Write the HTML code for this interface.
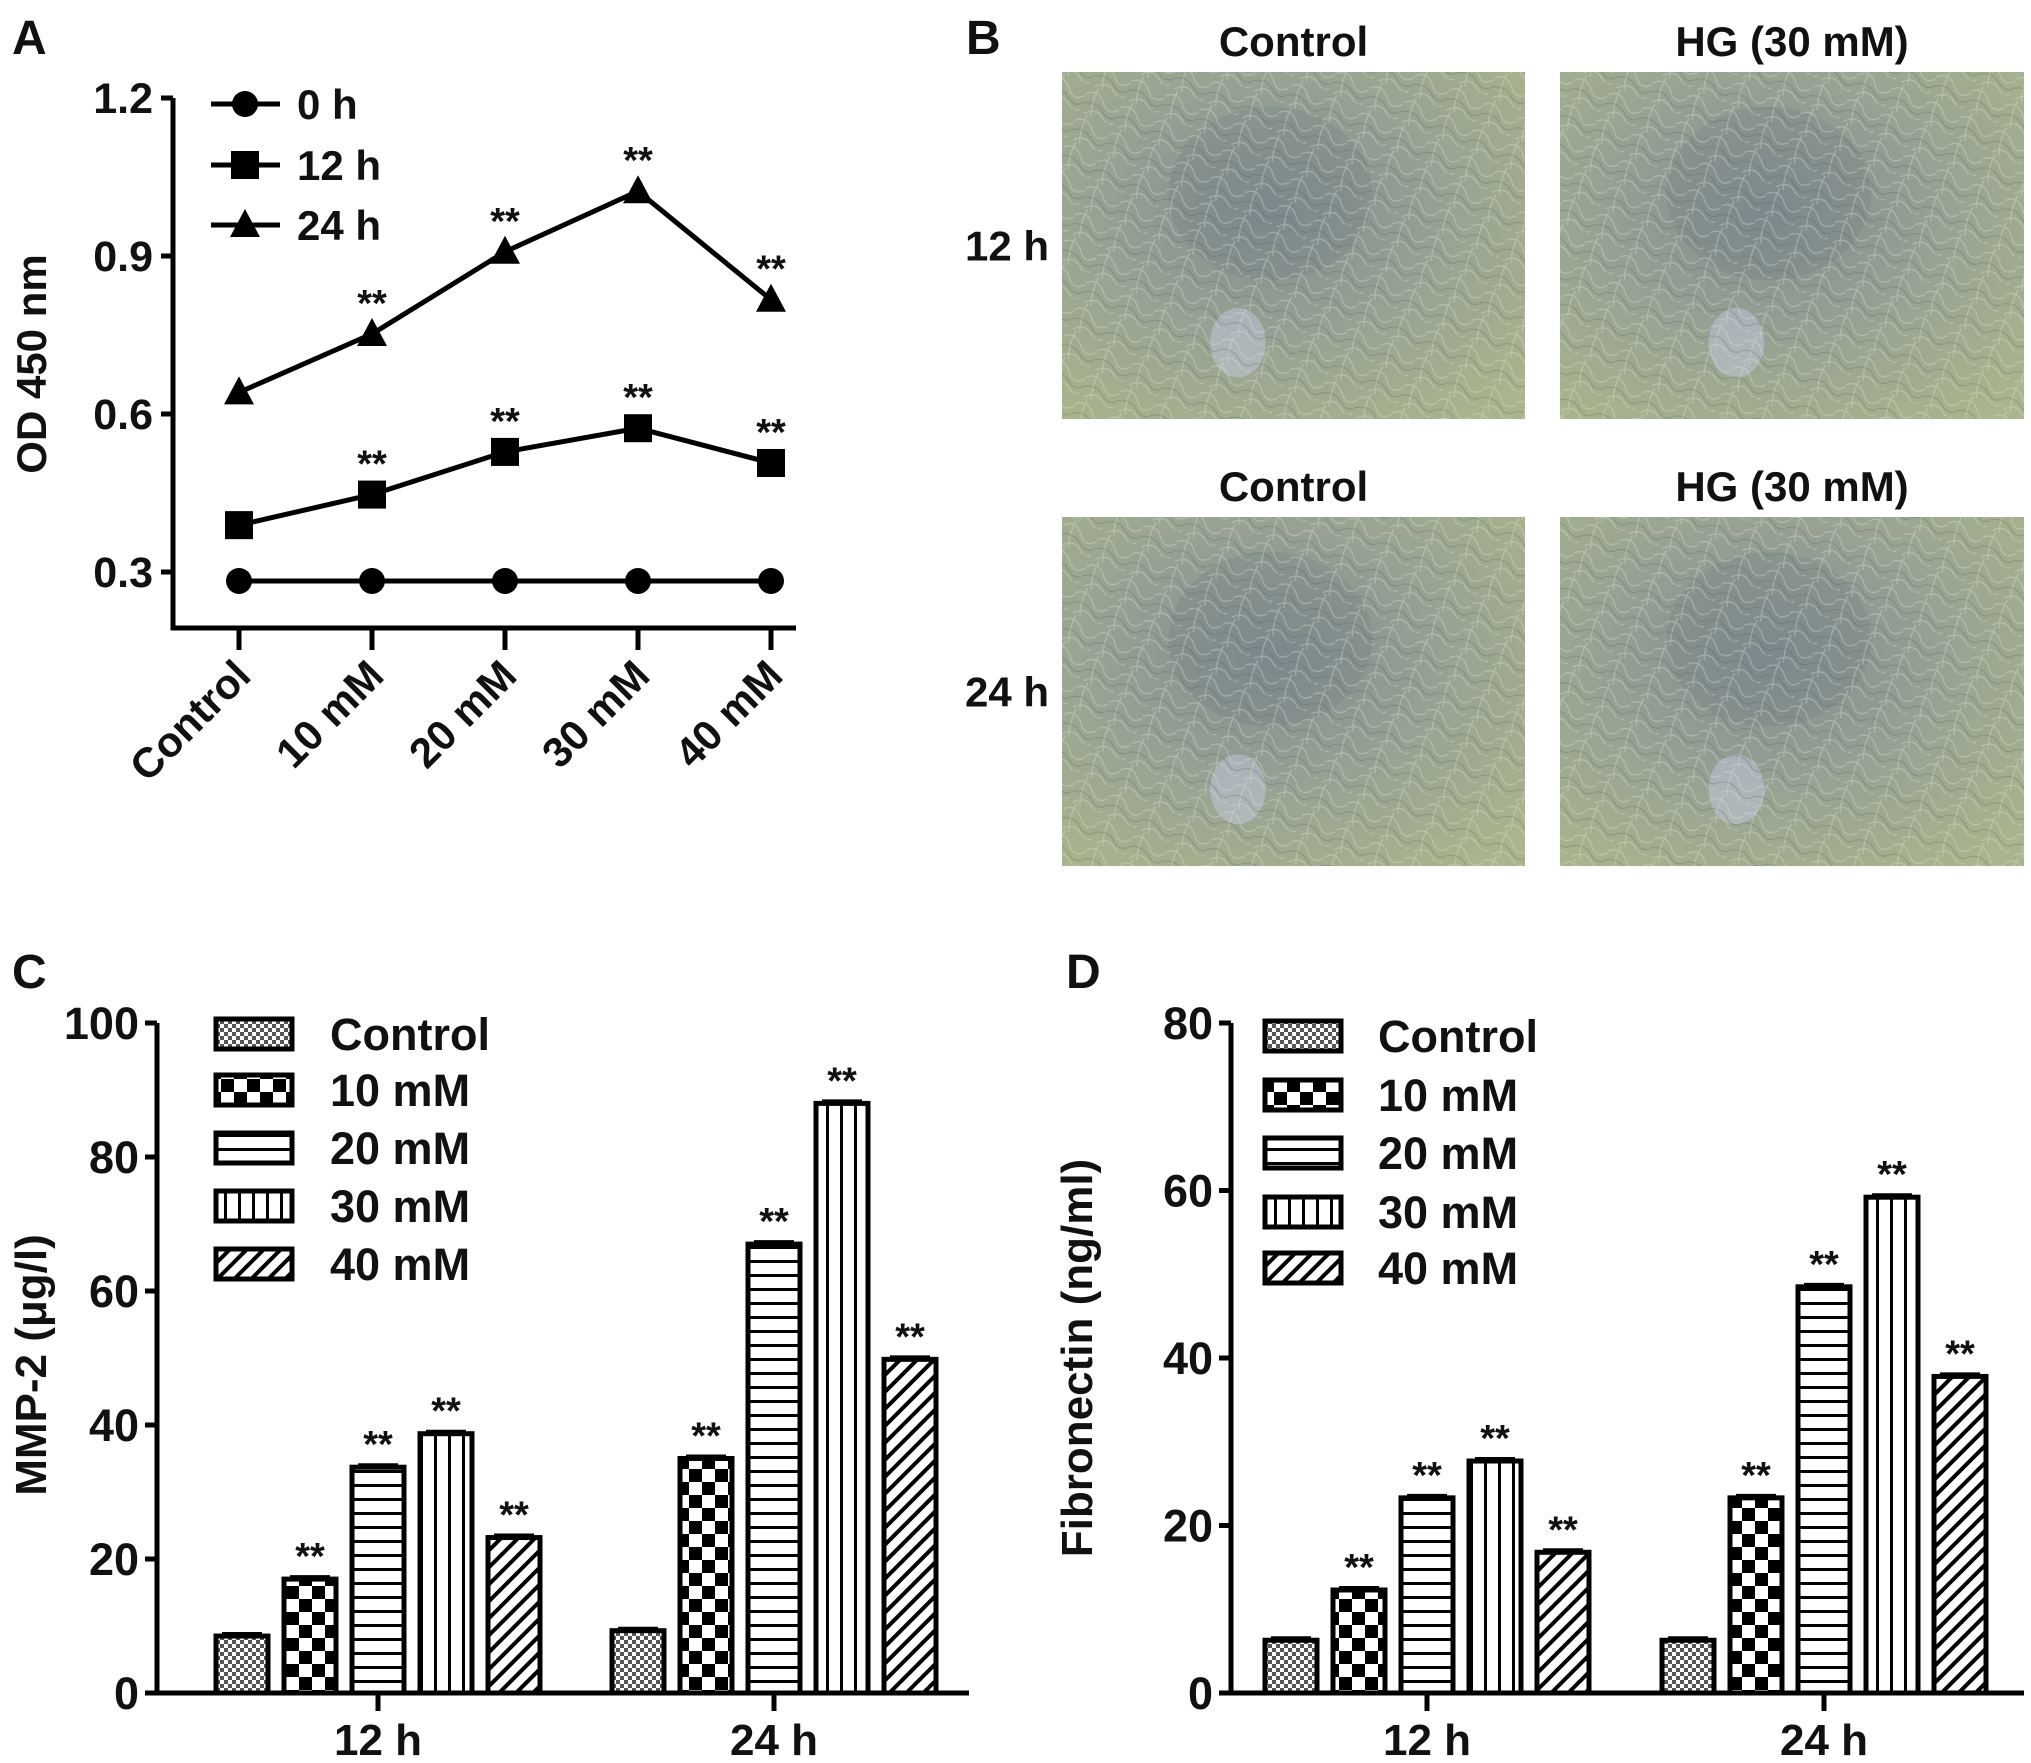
<!DOCTYPE html>
<html><head><meta charset="utf-8"><style>
html,body{margin:0;padding:0;background:#fff}
svg{display:block;font-family:"Liberation Sans",Arial,sans-serif;font-weight:bold}
</style></head><body>
<svg id="fig" width="2031" height="1763" viewBox="0 0 2031 1763" xmlns="http://www.w3.org/2000/svg">
<defs>
<pattern id="p-ctrl" width="8" height="8" patternUnits="userSpaceOnUse"><rect width="8" height="8" fill="#fff"/><rect width="4" height="4" fill="#555"/><rect x="4" y="4" width="4" height="4" fill="#555"/></pattern>
<pattern id="p-10" width="26" height="26" patternUnits="userSpaceOnUse"><rect width="26" height="26" fill="#fff"/><rect width="13" height="13" fill="#000"/><rect x="13" y="13" width="13" height="13" fill="#000"/></pattern>
<pattern id="p-20" width="10" height="14" patternUnits="userSpaceOnUse"><rect width="10" height="14" fill="#fff"/><rect y="0" width="10" height="3" fill="#000"/></pattern>
<pattern id="p-30" width="14" height="10" patternUnits="userSpaceOnUse"><rect width="14" height="10" fill="#fff"/><rect x="0" width="3" height="10" fill="#000"/></pattern>
<pattern id="p-40" width="12" height="12" patternUnits="userSpaceOnUse" patternTransform="rotate(45)"><rect width="12" height="12" fill="#fff"/><rect width="4" height="12" fill="#000"/></pattern>
<radialGradient id="cellbg" cx="0.45" cy="0.4" r="0.75"><stop offset="0" stop-color="#7f8b8e"/><stop offset="0.5" stop-color="#97a293"/><stop offset="1" stop-color="#a9b58c"/></radialGradient>
<pattern id="cells" width="37" height="29" patternUnits="userSpaceOnUse" patternTransform="rotate(23)"><path d="M0 10 Q10 0 20 12 T40 8 M5 30 Q15 18 25 26 T40 22 M10 0 Q8 15 14 30" stroke="#dfe6d8" stroke-width="1.3" fill="none" opacity="0.35"/><path d="M0 20 Q12 12 22 20 T40 18" stroke="#4d5a58" stroke-width="1.1" fill="none" opacity="0.3"/></pattern>
</defs>
</svg>
<script>
// ===== Panel A data =====
const aCategories = ["Control","10 mM","20 mM","30 mM","40 mM"];
const aSeriesNames = ["0 h","12 h","24 h"];
const a0h = [0.283,0.283,0.283,0.283,0.283];
const a12h = [0.389,0.447,0.528,0.573,0.507];
const a24h = [0.641,0.752,0.908,1.023,0.817];
const aStars12 = [false,true,true,true,true];
const aStars24 = [false,true,true,true,true];
const aTicks = [0.3,0.6,0.9,1.2];
const aTickLabels = ["0.3","0.6","0.9","1.2"];
// ===== Panel C data =====
const cGroups = ["12 h","24 h"];
const legendNames = ["Control","10 mM","20 mM","30 mM","40 mM"];
const c12 = [8.5,17,33.7,38.7,23.2];
const c24 = [9.3,35,67,88,49.8];
const cStars = [false,true,true,true,true];
const cTicks = [0,20,40,60,80,100];
// ===== Panel D data =====
const d12 = [6.3,12.3,23.3,27.7,16.8];
const d24 = [6.3,23.3,48.5,59.2,37.8];
const dStars = [false,true,true,true,true];
const dTicks = [0,20,40,60,80];

const NS="http://www.w3.org/2000/svg";
const svg=document.getElementById('fig');
function mk(tag,attrs,parent){const e=document.createElementNS(NS,tag);for(const k in attrs)e.setAttribute(k,attrs[k]);(parent||svg).appendChild(e);return e;}
function txt(s,x,y,size,anchor,parent,extra){const e=mk('text',Object.assign({x:x,y:y,'font-size':size,'text-anchor':anchor||'start',fill:'#111'},extra||{}),parent);e.textContent=s;return e;}

[["A",12,54],["B",966,54],["C",12,988],["D",1066,988]].forEach(p=>{
  const t=txt(p[0],p[1],p[2],48,'start');
  
  
});

// ===== Panel A =====
(function(){
  const g=mk('g',{});
  
  
  const x0=173,x1=796,yBase=628;
  const y=v=>572-(v-0.3)/0.3*158;
  const xs=i=>239+i*133;
  const ax=mk('path',{d:`M${x0} ${y(1.2)} V${yBase} H${x1}`,stroke:'#000','stroke-width':5,fill:'none'},g);
  
  
  aTicks.forEach((t,i)=>{
    mk('line',{x1:x0-12,x2:x0,y1:y(t),y2:y(t),stroke:'#000','stroke-width':5},g);
    const l=txt(aTickLabels[i],x0-20,y(t)+15,43,'end',g);
    
    
  });
  aCategories.forEach((c,i)=>{
    mk('line',{x1:xs(i),x2:xs(i),y1:yBase,y2:yBase+22,stroke:'#000','stroke-width':5},g);
    const l=txt(c,xs(i)+14,yBase+50,42,'end',g,{transform:`rotate(-45 ${xs(i)+14} ${yBase+50})`});
    
    
  });
  const yt=txt("OD 450 nm",46,364,42,'middle',g,{transform:'rotate(-90 46 364)'});
  
  
  function marker(type,cx,cy,parent){
    if(type===0)return mk('circle',{cx:cx,cy:cy,r:13,fill:'#000'},parent);
    if(type===1)return mk('rect',{x:cx-14,y:cy-14,width:28,height:28,fill:'#000'},parent);
    return mk('path',{d:`M${cx} ${cy-16} L${cx+15} ${cy+12} L${cx-15} ${cy+12}Z`,fill:'#000'},parent);
  }
  const series=[a0h,a12h,a24h];
  const stars=[null,aStars12,aStars24];
  series.forEach((s,k)=>{
    const sg=mk('g',{},g);
    
    
    mk('polyline',{points:s.map((v,i)=>xs(i)+','+y(v)).join(' '),fill:'none',stroke:'#000','stroke-width':5},sg);
    s.forEach((v,i)=>{
      const m=marker(k,xs(i),y(v),sg);
      
      
      if(stars[k]&&stars[k][i]){txt('**',xs(i),y(v)-18,38,'middle',sg);}
    });
  });
  const ly=[104,165,225];
  aSeriesNames.forEach((n,k)=>{
    const lg=mk('g',{},g);
    
    
    mk('line',{x1:211,x2:280,y1:ly[k],y2:ly[k],stroke:'#000','stroke-width':5},lg);
    marker(k,245,ly[k],lg);
    txt(n,297,ly[k]+15,42,'start',lg);
  });
})();

// ===== Panel B (micrographs) =====
(function(){
  const g=mk('g',{});
  
  
  const cols=[[1062,1525,"Control"],[1560,2024,"HG (30 mM)"]];
  const rows=[[72,419,40,"12 h"],[517,866,485,"24 h"]];
  rows.forEach((r,ri)=>{
    const rl=txt(r[3],965,(r[0]+r[1])/2+15,42,'start',g);
    
    
    cols.forEach((c,ci)=>{
      const t=txt(c[2],(c[0]+c[1])/2,r[2]+16,42,'middle',g);
      
      
      const im=mk('g',{},g);
      
      
      const w=c[1]-c[0],h=r[1]-r[0];
      mk('rect',{x:c[0],y:r[0],width:w,height:h,fill:'url(#cellbg)'},im);
      mk('ellipse',{cx:c[0]+w*0.45,cy:r[0]+h*0.35,rx:w*0.22,ry:h*0.25,fill:'#6f7c82',opacity:0.25},im);
      mk('ellipse',{cx:c[0]+w*0.38,cy:r[0]+h*0.78,rx:w*0.06,ry:h*0.1,fill:'#c8cce8',opacity:0.45},im);
      mk('rect',{x:c[0],y:r[0],width:w,height:h,fill:'url(#cells)'},im);
    });
  });
})();

// ===== Bar charts =====
function barChart(opts){
  const g=mk('g',{});
  
  
  const {x0,x1,y0,yTop,max,ticks,groups,series,stars,gcenters,title,legX,legTextX,legY}=opts;
  const y=v=>y0-(v/max)*(y0-yTop);
  const pats=['p-ctrl','p-10','p-20','p-30','p-40'];
  mk('path',{d:`M${x0} ${yTop} V${y0} H${x1}`,stroke:'#000','stroke-width':5,fill:'none'},g);
  ticks.forEach(t=>{
    mk('line',{x1:x0-12,x2:x0,y1:y(t),y2:y(t),stroke:'#000','stroke-width':5},g);
    const l=txt(String(t),x0-18,y(t)+16,45,'end',g);
    
    
  });
  groups.forEach((gn,gi)=>{
    const gc=gcenters[gi];
    mk('line',{x1:gc,x2:gc,y1:y0,y2:y0+18,stroke:'#000','stroke-width':5},g);
    const l=txt(gn,gc,y0+62,44,'middle',g);
    
    
    series[gi].forEach((v,i)=>{
      const cx=gc+(i-2)*68,w=52;
      const b=mk('rect',{x:cx-w/2,y:y(v),width:w,height:y0-y(v),fill:'url(#'+pats[i]+')',stroke:'#000','stroke-width':5},g);
      
      
      mk('line',{x1:cx-20,x2:cx+20,y1:y(v)-2,y2:y(v)-2,stroke:'#000','stroke-width':4},g);
      if(stars[i])txt('**',cx,y(v)-10,38,'middle',g);
    });
  });
  const yt=txt(title,opts.titleX,opts.titleY,44,'middle',g,{transform:`rotate(-90 ${opts.titleX} ${opts.titleY})`});
  
  
  legendNames.forEach((n,i)=>{
    const lg=mk('g',{},g);
    
    
    mk('rect',{x:legX,y:legY[i]-15,width:76,height:30,fill:'url(#'+pats[i]+')',stroke:'#000','stroke-width':5},lg);
    txt(n,legTextX,legY[i]+16,45,'start',lg);
  });
}
barChart({name:'panel-c-bar-chart',x0:157,x1:969,y0:1693,yTop:1023,max:100,ticks:cTicks,groups:cGroups,series:[c12,c24],stars:cStars,gcenters:[378,774],title:'MMP-2 (μg/l)',titleX:46,titleY:1365,legX:216,legTextX:330,legY:[1034,1090,1148,1206,1264]});
barChart({name:'panel-d-bar-chart',x0:1231,x1:2024,y0:1693,yTop:1023,max:80,ticks:dTicks,groups:cGroups,series:[d12,d24],stars:dStars,gcenters:[1427,1824],title:'Fibronectin (ng/ml)',titleX:1092,titleY:1358,legX:1265,legTextX:1378,legY:[1036,1095,1153,1212,1268]});
</script>
</body></html>
